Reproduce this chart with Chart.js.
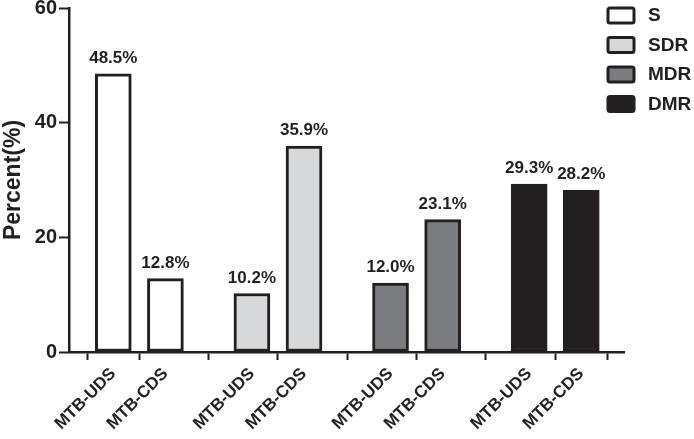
<!DOCTYPE html>
<html>
<head>
<meta charset="utf-8">
<title>Percent by group</title>
<script src="https://cdn.jsdelivr.net/npm/chart.js@4.4.0/dist/chart.umd.min.js"></script>
<style>
  html, body { margin: 0; padding: 0; background: #fff; }
  #chart { display: block; }
</style>
</head>
<body>
<canvas id="chart" width="694" height="439"></canvas>
<script>
// data
const groups = ['S', 'SDR', 'MDR', 'DMR'];
const barLabels = ['MTB-UDS', 'MTB-CDS'];
const udsValues = [48.5, 10.2, 12.0, 29.3];
const cdsValues = [12.8, 35.9, 23.1, 28.2];
const yTicks = [0, 20, 40, 60];

const fills = ['#ffffff', '#d7d8da', '#7b7c7f', '#231f20'];
const ink = '#231f20';
const FONT = "'Liberation Sans', Arial, Helvetica, sans-serif";

// bar positions on a linear x scale: two bars per group, wider gap between groups
const groupStep = 2.66;
function pos(g, i) { return g * groupStep + i; }

const xTickValues = [];
const xTickText = [];
groups.forEach((g, gi) => {
    barLabels.forEach((b, bi) => {
        xTickValues.push(pos(gi, bi));
        xTickText.push(b);
    });
});

const datasets = groups.map((g, gi) => ({
    label: g,
    data: [
        { x: pos(gi, 0), y: udsValues[gi] },
        { x: pos(gi, 1), y: cdsValues[gi] }
    ],
    backgroundColor: fills[gi],
    borderColor: ink,
    borderWidth: 3,
    borderSkipped: false,
    barThickness: 36,
    grouped: false
}));

// percent labels above bars
const valueLabels = {
    id: 'valueLabels',
    afterDatasetsDraw(chart) {
        const ctx = chart.ctx;
        ctx.save();
        ctx.fillStyle = ink;
        ctx.font = 'bold 17px ' + FONT;
        ctx.textAlign = 'center';
        ctx.textBaseline = 'alphabetic';
        chart.data.datasets.forEach((ds, di) => {
            chart.getDatasetMeta(di).data.forEach((bar, i) => {
                ctx.fillText(ds.data[i].y.toFixed(1) + '%', bar.x, bar.y - 11);
            });
        });
        ctx.restore();
    }
};

// legend in the top right corner, one box per group
const boxLegend = {
    id: 'boxLegend',
    afterDraw(chart) {
        const ctx = chart.ctx;
        ctx.save();
        ctx.font = 'bold 19px ' + FONT;
        ctx.textBaseline = 'middle';
        ctx.textAlign = 'left';
        chart.data.datasets.forEach((ds, i) => {
            const cy = 15 + i * 29.5;
            ctx.beginPath();
            ctx.roundRect(608, cy - 7, 26, 15, 2);
            ctx.fillStyle = ds.backgroundColor;
            ctx.fill();
            ctx.lineWidth = 3;
            ctx.strokeStyle = ink;
            ctx.stroke();
            ctx.fillStyle = ink;
            ctx.fillText(ds.label, 648, cy + 1);
        });
        ctx.restore();
    }
};

new Chart(document.getElementById('chart'), {
    type: 'bar',
    data: { datasets: datasets },
    options: {
        responsive: false,
        animation: false,
        devicePixelRatio: 1,
        layout: { padding: { top: 8, right: 70, left: 0, bottom: 0 } },
        plugins: {
            legend: { display: false },
            tooltip: { enabled: false }
        },
        scales: {
            x: {
                type: 'linear',
                offset: false,
                min: -0.85,
                max: pos(3, 1) + 0.82,
                afterBuildTicks(scale) {
                    scale.ticks = xTickValues.map(v => ({ value: v }));
                },
                afterFit(scale) {
                    scale.height = 87;
                    scale.paddingLeft = 0;
                    scale.paddingRight = 0;
                },
                grid: {
                    drawOnChartArea: false,
                    drawTicks: true,
                    tickLength: 8,
                    tickWidth: 2,
                    tickColor: ink
                },
                border: { display: true, color: ink, width: 2.5 },
                ticks: {
                    autoSkip: false,
                    minRotation: 45,
                    maxRotation: 45,
                    padding: 4,
                    color: ink,
                    font: { family: FONT, size: 17, weight: 'bold' },
                    callback: (v, i) => xTickText[i]
                }
            },
            y: {
                min: yTicks[0],
                max: yTicks[yTicks.length - 1],
                afterBuildTicks(scale) {
                    scale.ticks = yTicks.map(v => ({ value: v }));
                },
                afterFit(scale) {
                    scale.width = 69;
                    scale.paddingTop = 0;
                    scale.paddingBottom = 0;
                },
                grid: {
                    drawOnChartArea: false,
                    drawTicks: true,
                    tickLength: 10,
                    tickWidth: 2,
                    tickColor: ink
                },
                border: { display: true, color: ink, width: 2.5 },
                ticks: {
                    padding: 2,
                    color: ink,
                    font: { family: FONT, size: 20, weight: 'bold' }
                },
                title: {
                    display: true,
                    text: 'Percent(%)',
                    color: ink,
                    padding: 0,
                    font: { family: FONT, size: 23, weight: 'bold' }
                }
            }
        }
    },
    plugins: [valueLabels, boxLegend]
});
</script>
</body>
</html>
